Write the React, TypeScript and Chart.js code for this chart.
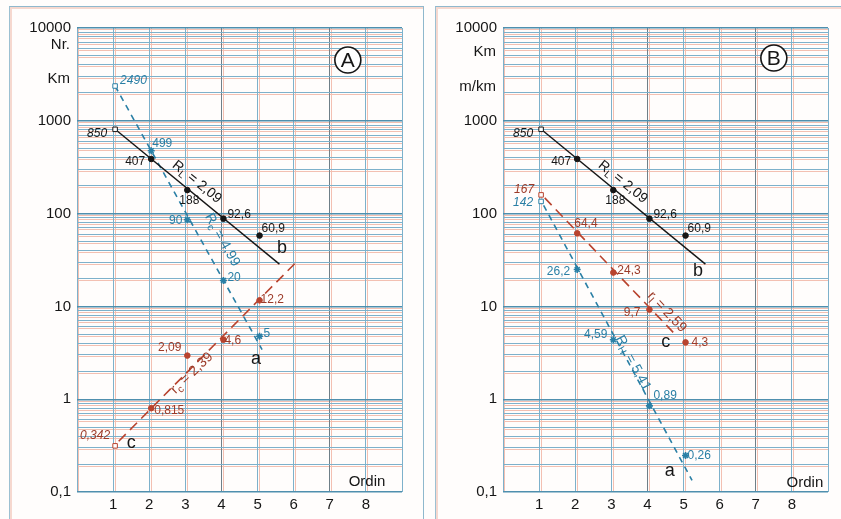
import React, { useEffect, useRef } from 'react';
import { Chart, registerables } from 'chart.js';
Chart.register(...registerables);

// ---------------- data ----------------
const ordinals = [1, 2, 3, 4, 5];
const xTickLabels = ['', '1', '2', '3', '4', '5', '6', '7', '8', ''];
const yTickLabels = ['0,1', '1', '10', '100', '1000', '10000'];

// Panel A
const A_b = [850, 407, 188, 92.6, 60.9];
const A_bText = ['850', '407', '188', '92,6', '60,9'];
const A_a = [2490, 499, 90, 20, 5];
const A_aText = ['2490', '499', '90', '20', '5'];
const A_c = [0.33, 0.84, 3.1, 4.6, 12.2];
const A_cText = ['0,342', '0,815', '2,09', '4,6', '12,2'];
const A_bFit = [{ x: 1, y: 850 }, { x: 5.55, y: 30 }];
const A_aFit = [{ x: 1, y: 2490 }, { x: 5.07, y: 3.6 }];
const A_cFit = [{ x: 1.1, y: 0.37 }, { x: 6.0, y: 31 }];

// Panel B
const B_b = [850, 407, 188, 92.6, 60.9];
const B_bText = ['850', '407', '188', '92,6', '60,9'];
const B_c = [167, 64.4, 24.3, 9.7, 4.3];
const B_cText = ['167', '64,4', '24,3', '9,7', '4,3'];
const B_a = [142, 26.2, 4.59, 0.89, 0.26];
const B_aText = ['142', '26,2', '4,59', '0,89', '0,26'];
const B_bFit = [{ x: 1, y: 850 }, { x: 5.55, y: 30 }];
const B_cFit = [{ x: 1.1, y: 155 }, { x: 4.7, y: 5.3 }];
const B_aFit = [{ x: 1.07, y: 129 }, { x: 5.18, y: 0.14 }];

// ---------------- styles ----------------
const FONT = "'Liberation Sans', Arial, Helvetica, sans-serif";
const BLACK = '#161616';
const BLUE = '#2a7fa5';
const RED = '#b8432e';
const RED_TXT = '#9c3a28';
const GRID_BLUE = '#7db1cb';
const GRID_BLUE_DARK = '#4f8fae';
const GRID_GRAY = '#6f7f88';
const GRID_RED = '#f3c0b2';

type Off = [number, number, CanvasTextAlign, boolean?];
type Part = [string, boolean?];
type FreeText = { x: number; y: number; parts: Part[]; size: number; color: string; rot?: number; align?: CanvasTextAlign; italic?: boolean };

const isDecade = (v: number) => Math.abs(Math.log10(v) - Math.round(Math.log10(v))) < 1e-9;

function logTicks(lo: number, hi: number) {
  const out: { value: number; major?: boolean }[] = [];
  for (let e = -1; e <= 4; e++) {
    for (let m = 1; m <= 9; m++) {
      const v = m * Math.pow(10, e);
      if (v >= lo * 0.9999 && v <= hi * 1.0001) out.push({ value: v, major: m === 1 });
    }
  }
  return out;
}

type Series = { values: number[]; texts: string[]; offs: Off[]; color: string; txtColor: string; style: string; fit: { x: number; y: number }[]; dash: number[] };

type PanelSpec = {
  yAxisWidth: number;
  padRight: number;
  series: Series[];
  texts: FreeText[];
  yExtra: { y: number; text: string }[];
  circle: { x: number; y: number; letter: string };
};

function drawParts(ctx: CanvasRenderingContext2D, t: FreeText, px: number, py: number) {
  const base = `${t.italic ? 'italic ' : ''}${t.size}px ${FONT}`;
  const sub = `${t.italic ? 'italic ' : ''}${Math.round(t.size * 0.72)}px ${FONT}`;
  let total = 0;
  const widths = t.parts.map(([s, isSub]) => {
    ctx.font = isSub ? sub : base;
    const w = ctx.measureText(s).width;
    total += w;
    return w;
  });
  ctx.save();
  ctx.translate(px, py);
  if (t.rot) ctx.rotate((t.rot * Math.PI) / 180);
  let cx = t.align === 'left' ? 0 : t.align === 'right' ? -total : -total / 2;
  ctx.fillStyle = t.color;
  ctx.textBaseline = 'middle';
  ctx.textAlign = 'left';
  t.parts.forEach(([s, isSub], i) => {
    ctx.font = isSub ? sub : base;
    ctx.fillText(s, cx, isSub ? t.size * 0.3 : 0);
    cx += widths[i];
  });
  ctx.restore();
}

function Panel({ spec, left, width }: { spec: PanelSpec; left: number; width: number }) {
  const ref = useRef<HTMLCanvasElement | null>(null);
  useEffect(() => {
    if (!ref.current) return;
    const datasets: any[] = [];
    spec.series.forEach((s) => {
      datasets.push({
        data: s.fit,
        showLine: true,
        borderColor: s.color,
        borderWidth: s.dash.length ? 1.6 : 1.4,
        borderDash: s.dash,
        pointRadius: 0,
        order: 2,
      });
      datasets.push({
        data: ordinals.map((x, i) => ({ x, y: s.values[i] })),
        showLine: false,
        pointStyle: (c: any) => (c.dataIndex === 0 ? 'rect' : s.style),
        pointRadius: (c: any) => (c.dataIndex === 0 ? 3.2 : s.style === 'star' ? 3.5 : 2.8),
        pointBorderWidth: (c: any) => (c.dataIndex === 0 ? 1 : s.style === 'star' ? 1.6 : 1),
        pointBackgroundColor: (c: any) => (c.dataIndex === 0 ? '#ffffff' : s.color),
        pointBorderColor: s.color,
        order: 1,
      });
    });

    const plugin = {
      id: 'annot',
      afterDatasetsDraw(chart: any) {
        const { ctx } = chart;
        const x = chart.scales.x;
        const y = chart.scales.y;
        ctx.save();
        // point labels
        spec.series.forEach((s) => {
          s.values.forEach((v, i) => {
            const [dx, dy, align, italic] = s.offs[i];
            ctx.font = `${italic ? 'italic ' : ''}12px ${FONT}`;
            ctx.fillStyle = s.txtColor;
            ctx.textAlign = align;
            ctx.textBaseline = 'middle';
            ctx.fillText(s.texts[i], x.getPixelForValue(ordinals[i]) + dx, y.getPixelForValue(v) + dy);
          });
        });
        // free texts
        spec.texts.forEach((t) => drawParts(ctx, t, x.getPixelForValue(t.x), y.getPixelForValue(t.y)));
        // extra y-axis labels
        spec.yExtra.forEach((e) => {
          ctx.font = `15px ${FONT}`;
          ctx.fillStyle = BLACK;
          ctx.textAlign = 'right';
          ctx.textBaseline = 'middle';
          ctx.fillText(e.text, chart.chartArea.left - 7, y.getPixelForValue(e.y));
        });
        // circled letter
        const cx = x.getPixelForValue(spec.circle.x);
        const cy = y.getPixelForValue(spec.circle.y);
        ctx.beginPath();
        ctx.arc(cx, cy, 13, 0, Math.PI * 2);
        ctx.fillStyle = '#ffffff';
        ctx.fill();
        ctx.lineWidth = 1.6;
        ctx.strokeStyle = BLACK;
        ctx.stroke();
        ctx.font = `21px ${FONT}`;
        ctx.fillStyle = BLACK;
        ctx.textAlign = 'center';
        ctx.textBaseline = 'middle';
        ctx.fillText(spec.circle.letter, cx, cy + 1);
        ctx.restore();
      },
    };

    const chart = new Chart(ref.current, {
      type: 'scatter',
      data: { datasets },
      plugins: [plugin],
      options: {
        animation: false,
        responsive: false,
        devicePixelRatio: 1,
        layout: { padding: { left: 0, top: 28, right: spec.padRight, bottom: 0 } },
        plugins: { legend: { display: false }, tooltip: { enabled: false } },
        scales: {
          x2: {
            type: 'linear',
            position: 'top',
            min: -0.055,
            max: 8.945,
            afterBuildTicks: (s: any) => { s.ticks = [0, 1, 2, 3, 4, 5, 6, 7, 8].map((v) => ({ value: v })); },
            afterFit: (s: any) => { s.height = 0; },
            ticks: { display: false },
            border: { display: false },
            grid: { color: GRID_RED, drawTicks: false, lineWidth: 1 },
          },
          y2: {
            type: 'logarithmic',
            position: 'right',
            min: 0.1 * 1.05,
            max: 10000 * 1.05,
            afterBuildTicks: (s: any) => { s.ticks = logTicks(0.105, 10500); },
            afterFit: (s: any) => { s.width = 0; },
            ticks: { display: false, autoSkip: false },
            border: { display: false },
            grid: { color: GRID_RED, drawTicks: false, lineWidth: 1 },
          },
          x: {
            type: 'linear',
            min: 0,
            max: 9,
            afterBuildTicks: (s: any) => { s.ticks = [0, 1, 2, 3, 4, 5, 6, 7, 8, 9].map((v) => ({ value: v })); },
            afterFit: (s: any) => { s.height = 27; },
            ticks: {
              autoSkip: false,
              maxRotation: 0,
              padding: 4,
              color: BLACK,
              font: { size: 15, family: FONT },
              callback: (v: any) => xTickLabels[Math.round(Number(v))] ?? '',
            },
            border: { display: false },
            grid: {
              drawTicks: false,
              lineWidth: 1,
              color: (c: any) => (c.tick && (c.tick.value === 4 || c.tick.value === 7) ? GRID_GRAY : GRID_BLUE),
            },
          },
          y: {
            type: 'logarithmic',
            min: 0.1,
            max: 10000,
            afterBuildTicks: (s: any) => { s.ticks = logTicks(0.1, 10000); },
            afterFit: (s: any) => { s.width = spec.yAxisWidth; },
            ticks: {
              autoSkip: false,
              padding: 6,
              color: BLACK,
              font: { size: 15, family: FONT },
              callback: (v: any) => (isDecade(Number(v)) ? yTickLabels[Math.round(Math.log10(Number(v))) + 1] : ''),
            },
            border: { display: false },
            grid: {
              drawTicks: false,
              lineWidth: (c: any) => (c.tick && isDecade(c.tick.value) ? 1.4 : 1),
              color: (c: any) => (c.tick && isDecade(c.tick.value) ? GRID_BLUE_DARK : GRID_BLUE),
            },
          },
        },
      } as any,
    });
    return () => chart.destroy();
  }, [spec]);
  return (
    <canvas
      ref={ref}
      width={width}
      height={519}
      style={{ position: 'absolute', left, top: 0, width, height: 519, display: 'block' }}
    />
  );
}

const rl = (x: number, y: number): FreeText => ({ x, y, parts: [['R'], ['L', true], [' = 2,09']], size: 14, color: BLACK, rot: 39 });

const specA: PanelSpec = {
  yAxisWidth: 77,
  padRight: 18,
  series: [
    {
      values: A_b, texts: A_bText, color: BLACK, txtColor: BLACK, style: 'circle', fit: A_bFit, dash: [],
      offs: [[-6, 6, 'right', true], [-4, 5, 'right'], [4, 13, 'center'], [6, -2, 'left'], [4, -5, 'left']],
    },
    {
      values: A_a, texts: A_aText, color: BLUE, txtColor: BLUE, style: 'star', fit: A_aFit, dash: [6, 5],
      offs: [[7, -3, 'left', true], [3, -5, 'left'], [-3, 3, 'right'], [6, -1, 'left'], [6, -1, 'left']],
    },
    {
      values: A_c, texts: A_cText, color: RED, txtColor: RED_TXT, style: 'circle', fit: A_cFit, dash: [10, 6],
      offs: [[-3, -8, 'right', true], [5, 4, 'left'], [-4, -6, 'right'], [3, 3, 'left'], [3, 1, 'left']],
    },
  ],
  texts: [
    rl(3.32, 219),
    { x: 4.02, y: 52, parts: [['R'], ['c', true], [' = 4,99']], size: 14, color: BLUE, rot: 61 },
    { x: 3.18, y: 1.91, parts: [['r'], ['c', true], [' = 2,39']], size: 14, color: RED_TXT, rot: -44 },
    { x: 5.68, y: 42.6, parts: [['b']], size: 18, color: BLACK },
    { x: 4.96, y: 2.71, parts: [['a']], size: 18, color: BLACK },
    { x: 1.5, y: 0.337, parts: [['c']], size: 18, color: BLACK },
    { x: 8.03, y: 0.128, parts: [['Ordin']], size: 15, color: BLACK },
  ],
  yExtra: [
    { y: 6560, text: 'Nr.' },
    { y: 2820, text: 'Km' },
  ],
  circle: { x: 7.5, y: 4520, letter: 'A' },
};

const specB: PanelSpec = {
  yAxisWidth: 83,
  padRight: 13,
  series: [
    {
      values: B_b, texts: B_bText, color: BLACK, txtColor: BLACK, style: 'circle', fit: B_bFit, dash: [],
      offs: [[-6, 6, 'right', true], [-4, 5, 'right'], [4, 13, 'center'], [6, -2, 'left'], [4, -5, 'left']],
    },
    {
      values: B_c, texts: B_cText, color: RED, txtColor: RED_TXT, style: 'circle', fit: B_cFit, dash: [10, 6],
      offs: [[-5, -3, 'right', true], [-1, -8, 'left'], [6, 0, 'left'], [-7, 5, 'right'], [8, 2, 'left']],
    },
    {
      values: B_a, texts: B_aText, color: BLUE, txtColor: BLUE, style: 'star', fit: B_aFit, dash: [6, 5],
      offs: [[-6, 3, 'right', true], [-5, 4, 'right'], [-4, -3, 'right'], [6, -8, 'left'], [4, 2, 'left']],
    },
  ],
  texts: [
    rl(3.32, 219),
    { x: 4.54, y: 8.7, parts: [['r'], ['l', true], [' = 2,59']], size: 14, color: RED_TXT, rot: 47 },
    { x: 3.6, y: 2.45, parts: [['R'], ['H', true], [' = 5,41']], size: 14, color: BLUE, rot: 62 },
    { x: 5.4, y: 24, parts: [['b']], size: 18, color: BLACK },
    { x: 4.51, y: 4.13, parts: [['c']], size: 18, color: BLACK },
    { x: 4.62, y: 0.168, parts: [['a']], size: 18, color: BLACK },
    { x: 8.36, y: 0.127, parts: [['Ordin']], size: 15, color: BLACK },
  ],
  yExtra: [
    { y: 5510, text: 'Km' },
    { y: 2310, text: 'm/km' },
  ],
  circle: { x: 7.5, y: 4750, letter: 'B' },
};

const frame = (left: number, width: number): React.CSSProperties => ({
  position: 'absolute',
  left,
  top: 6,
  width,
  height: 560,
  borderTop: '1px solid #8fb8cd',
  borderLeft: '1px solid #9cc0d2',
  borderRight: '1px solid #8fb8cd',
  boxShadow: 'inset 2px 2px 0 0 #f6d8cf',
  boxSizing: 'border-box',
});

export default function App() {
  return (
    <div style={{ position: 'absolute', left: 0, top: 0, width: 841, height: 519, overflow: 'hidden', background: '#fffdfc' }}>
      <div style={frame(9, 415)} />
      <div style={frame(435, 420)} />
      <Panel spec={specA} left={0} width={420} />
      <Panel spec={specB} left={420} width={421} />
    </div>
  );
}
